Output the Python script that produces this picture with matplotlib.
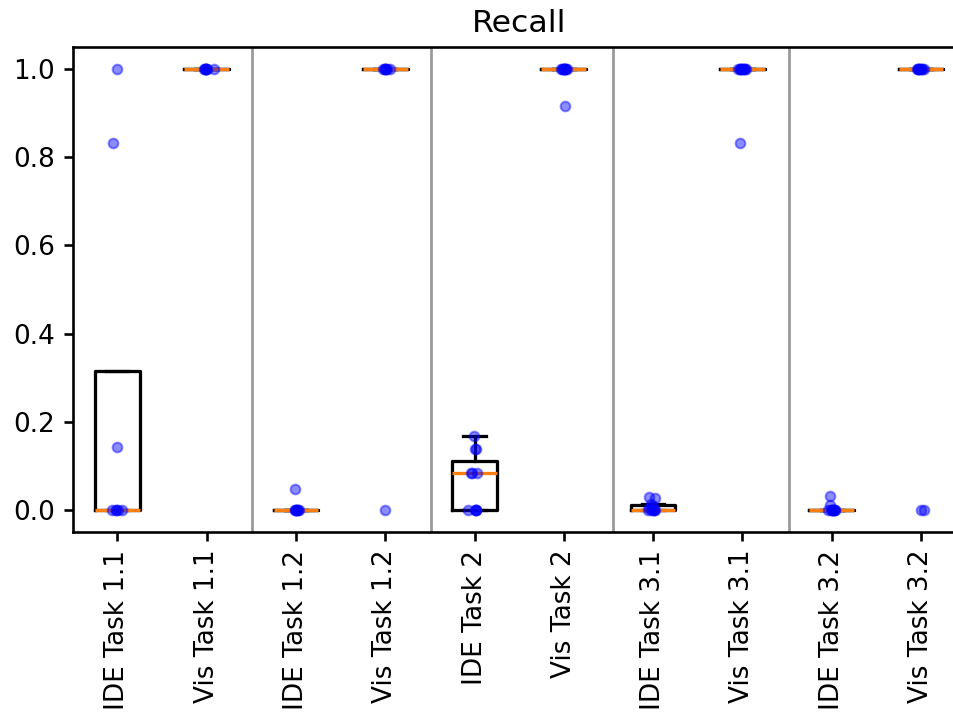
import numpy as np
import matplotlib
matplotlib.use("Agg")
import matplotlib.pyplot as plt

labels = ["IDE Task 1.1", "Vis Task 1.1", "IDE Task 1.2", "Vis Task 1.2",
          "IDE Task 2", "Vis Task 2", "IDE Task 3.1", "Vis Task 3.1",
          "IDE Task 3.2", "Vis Task 3.2"]

ide_1_1 = [0, 0, 0, 0, 0, 0.1429, 0.8333, 1.0]
vis_1_1 = [1.0, 1.0, 1.0, 1.0, 1.0, 1.0, 1.0, 1.0]
ide_1_2 = [0, 0, 0, 0, 0, 0, 0, 0.0476]
vis_1_2 = [1.0, 1.0, 1.0, 1.0, 1.0, 1.0, 1.0, 0]
ide_2 = [0, 0, 0, 0, 0, 0.0833, 0.0833, 0.0833, 0.1389, 0.1389, 0.1667]
vis_2 = [1.0, 1.0, 1.0, 1.0, 1.0, 1.0, 1.0, 1.0, 1.0, 1.0, 0.9167]
ide_3_1 = [0, 0, 0, 0, 0, 0, 0.004, 0.008, 0.012, 0.026, 0.028]
vis_3_1 = [1.0, 1.0, 1.0, 1.0, 1.0, 1.0, 1.0, 1.0, 1.0, 1.0, 0.8333]
ide_3_2 = [0, 0, 0, 0, 0, 0, 0, 0, 0, 0.0111, 0.0313]
vis_3_2 = [1.0, 1.0, 1.0, 1.0, 1.0, 1.0, 1.0, 1.0, 1.0, 0, 0]

groups = [ide_1_1, vis_1_1, ide_1_2, vis_1_2, ide_2, vis_2,
          ide_3_1, vis_3_1, ide_3_2, vis_3_2]

separators = [2.51, 4.51, 6.55, 8.52]

plt.rcParams["font.size"] = 10.5
plt.rcParams["axes.titlesize"] = 12.6
plt.rcParams["axes.linewidth"] = 1.05
plt.rcParams["xtick.major.width"] = 1.05
plt.rcParams["ytick.major.width"] = 1.05
plt.rcParams["xtick.major.size"] = 3.7
plt.rcParams["ytick.major.size"] = 3.7

fig = plt.figure(figsize=(953 / 180, 715 / 180), dpi=180)
ax = fig.add_axes([72.65 / 953, 1 - 531.7 / 715, 893 / 953, (531.7 - 47.3) / 715])

positions = np.arange(1, len(groups) + 1)
lw = 1.3
ax.boxplot(groups, positions=positions, showfliers=False, widths=0.5,
           boxprops=dict(linewidth=lw), whiskerprops=dict(linewidth=lw),
           capprops=dict(linewidth=lw), medianprops=dict(linewidth=lw, color="#ff7f0e"))

rng = np.random.default_rng(3)
for p, g in zip(positions, groups):
    xs = p + rng.normal(0, 0.025, len(g))
    ax.scatter(xs, g, color="blue", alpha=0.45, s=15, zorder=3, linewidths=0.8)

for s in separators:
    ax.axvline(s, color="gray", alpha=0.8, lw=1.1)

ax.set_xlim(0.5, 10.5)
ax.set_ylim(-0.05, 1.05)
ax.set_xticks(positions)
ax.set_xticklabels(labels, rotation=90)
ax.set_title("Recall")

fig.savefig("out.png", dpi=180)
